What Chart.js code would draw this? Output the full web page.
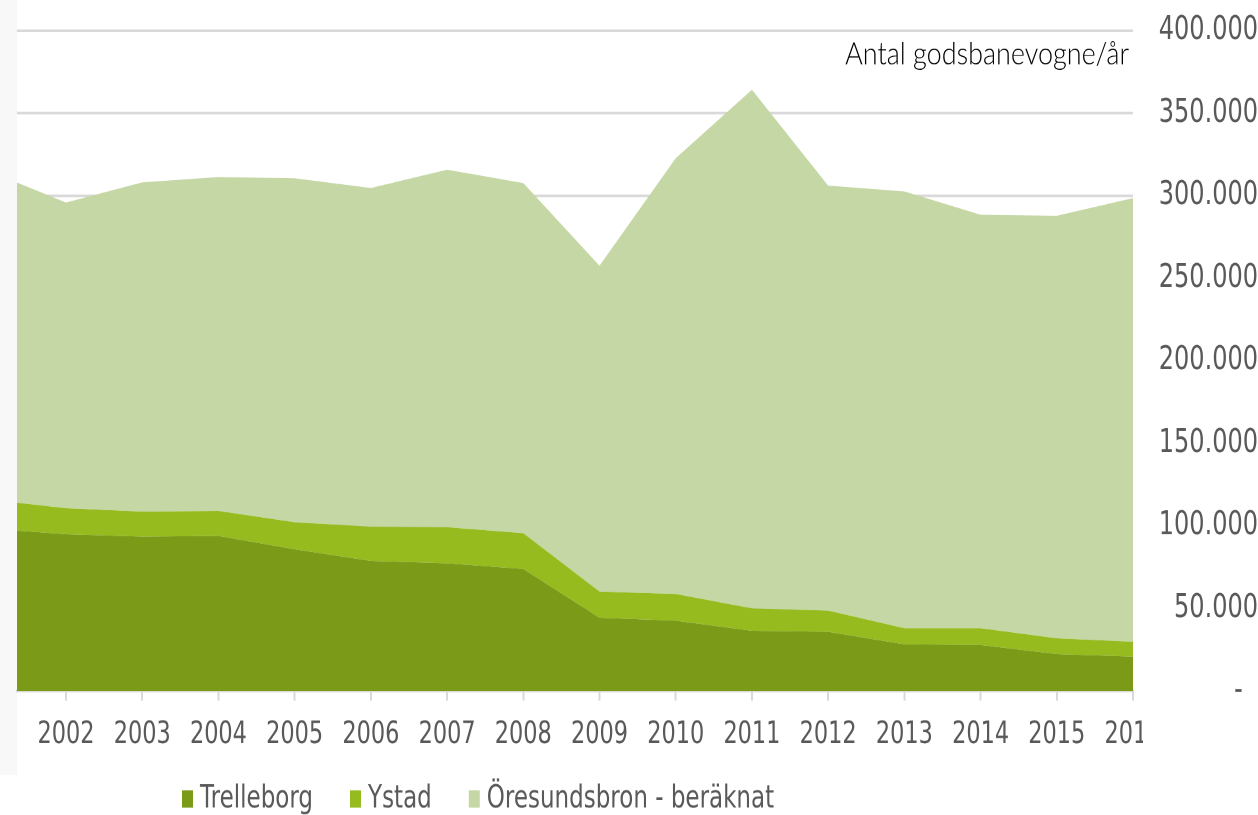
<!DOCTYPE html>
<html lang="da">
<head>
<meta charset="utf-8">
<title>Antal godsbanevogne/år</title>
<script src="https://cdn.jsdelivr.net/npm/chart.js@4.4.1/dist/chart.umd.min.js"></script>
<style>
    html, body { margin: 0; padding: 0; background: #fff; overflow: hidden; }
    /* le graphique d'origine est étiré verticalement */
    #cadre { position: absolute; left: 0; top: 0; width: 1258px; height: 595px; transform: scaleY(1.369748); transform-origin: 0 0; }
</style>
</head>
<body>
<div id="cadre"><canvas id="graphique"></canvas></div>
<script>
const annees = [2001, 2002, 2003, 2004, 2005, 2006, 2007, 2008, 2009, 2010, 2011, 2012, 2013, 2014, 2015, 2016];
const trelleborg = [98400, 95000, 93500, 93900, 85900, 78800, 77400, 73900, 44400, 42600, 36500, 35900, 28300, 27900, 22400, 20800];
const ystad = [17600, 15700, 15200, 15200, 16300, 20800, 21800, 21700, 15800, 16200, 13600, 12800, 9700, 10100, 9500, 9100];
const oresundsbron = [198800, 185200, 199400, 202200, 208400, 205100, 216600, 212100, 197400, 264000, 314100, 257500, 264600, 250500, 256000, 268700];
const graduations = [0, 50000, 100000, 150000, 200000, 250000, 300000, 350000, 400000];
const anneesAffichees = [2002, 2003, 2004, 2005, 2006, 2007, 2008, 2009, 2010, 2011, 2012, 2013, 2014, 2015, 2016];
const nomsSeries = ["Trelleborg", "Ystad", "Öresundsbron - beräknat"];
const titreAxe = "Antal godsbanevogne/år";

const ETIREMENT = 815 / 595;
const couleurs = ["#7a9a18", "#95bb1e", "#c4d7a4"];
const gris = "#595959";

function formatDK(v) {
    if (v === 0) return "-  ";
    return String(v).replace(/\B(?=(\d{3})+(?!\d))/g, ".");
}

const decor = {
    id: "decor",
    beforeDraw(chart) {
        let ctx = chart.ctx;
        ctx.save();
        ctx.fillStyle = "#f8f8f8";
        ctx.fillRect(0, 0, 17, 775 / ETIREMENT);
        ctx.restore();
    },
    afterDraw(chart) {
        let ctx = chart.ctx;
        ctx.save();
        // l'étiquette 2016 est coupée dans l'original
        ctx.fillStyle = "#fff";
        ctx.fillRect(1143, 515, 115, 50);

        // titre de l'axe
        ctx.save();
        ctx.translate(1129, 64.5 / ETIREMENT);
        ctx.scale(1, 0.83);
        ctx.font = "300 27px Lato";
        ctx.textAlign = "right";
        ctx.textBaseline = "alphabetic";
        ctx.fillStyle = "#000";
        ctx.fillText(titreAxe, 0, 0);
        ctx.restore();

        // légende
        let y = 799 / ETIREMENT;
        let x = 182;
        ctx.font = "23px 'DejaVu Sans'";
        ctx.textBaseline = "middle";
        ctx.textAlign = "left";
        chart.data.datasets.forEach(function (ds) {
            ctx.fillStyle = ds.backgroundColor;
            ctx.fillRect(x, y - 6.3, 11, 12.6);
            ctx.fillStyle = gris;
            ctx.fillText(ds.label, x + 18, y);
            x += 18 + ctx.measureText(ds.label).width + 37;
        });
        ctx.restore();
    }
};

let series = [trelleborg, ystad, oresundsbron];
let datasets = [];
for (let i = 0; i < series.length; i++) {
    datasets.push({
        label: nomsSeries[i],
        data: series[i],
        backgroundColor: couleurs[i],
        borderColor: "transparent",
        borderWidth: 0,
        pointRadius: 0,
        tension: 0,
        fill: i === 0 ? "origin" : "-1"
    });
}

let ctx = document.getElementById("graphique").getContext("2d");
let chart = new Chart(ctx, {
    type: "line",
    data: {
        labels: annees,
        datasets: datasets
    },
    plugins: [decor],
    options: {
        responsive: true,
        maintainAspectRatio: false,
        animation: false,
        devicePixelRatio: 2,
        layout: {
            padding: { top: 30.7 / ETIREMENT, left: 17, right: 0, bottom: 0 }
        },
        plugins: {
            legend: { display: false },
            tooltip: { enabled: false }
        },
        scales: {
            x: {
                type: "linear",
                min: 2001.357,
                max: 2016,
                afterBuildTicks: function (scale) {
                    scale.ticks = anneesAffichees.map(v => ({ value: v }));
                },
                afterFit: function (scale) {
                    scale.height = 595 - 691 / ETIREMENT;
                    scale.paddingLeft = 0;
                    scale.paddingRight = 0;
                },
                border: { display: true, color: "#d9d9d9", width: 2 },
                grid: { drawOnChartArea: false, drawTicks: true, tickLength: 7, color: "#d9d9d9", lineWidth: 2 },
                ticks: {
                    autoSkip: false,
                    maxRotation: 0,
                    padding: 12,
                    color: gris,
                    font: { family: "'DejaVu Sans'", size: 22.4 },
                    callback: function (v) { return String(v); }
                }
            },
            y: {
                position: "right",
                stacked: true,
                min: 0,
                max: 400000,
                afterBuildTicks: function (scale) {
                    scale.ticks = graduations.map(v => ({ value: v }));
                },
                afterFit: function (scale) {
                    scale.width = 125;
                    scale.paddingTop = 0;
                    scale.paddingBottom = 0;
                },
                border: { display: false },
                grid: { color: "#d9d9d9", lineWidth: 2, drawTicks: false },
                ticks: {
                    crossAlign: "far",
                    padding: 15,
                    color: gris,
                    font: { family: "'DejaVu Sans'", size: 24 },
                    callback: function (v) { return formatDK(v); }
                }
            }
        }
    }
});
</script>
</body>
</html>
